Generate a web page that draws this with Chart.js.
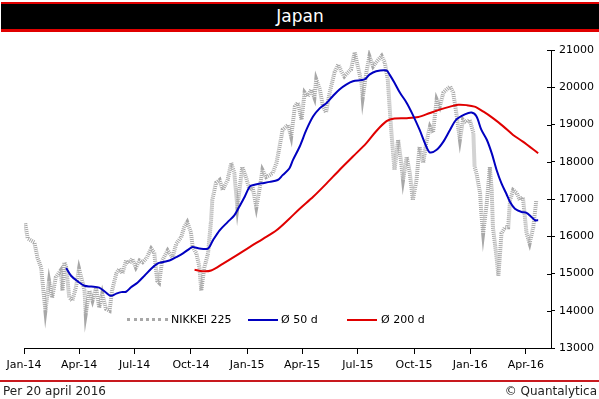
<!DOCTYPE html>
<html>
<head>
<meta charset="utf-8">
<script src="https://cdn.jsdelivr.net/npm/chart.js@4.4.1/dist/chart.umd.min.js"></script>
<style>
  html, body { margin: 0; padding: 0; background: #fff; }
  body { width: 599px; height: 399px; position: relative; overflow: hidden; font-family: "DejaVu Sans", Verdana, sans-serif; }
  #chartBox { position: absolute; left: 0; top: 0; width: 599px; height: 399px; }
  .titleBar { position: absolute; left: 1px; right: 0; top: 2px; height: 25px; background: #000; border-top: 2px solid #e00000; border-bottom: 3px solid #e00000; color: #fff; text-align: center; font-size: 17px; line-height: 25px; }
  .footLine { position: absolute; left: 0; right: 0; top: 380px; height: 2px; background: #c8191e; }
  .foot { position: absolute; top: 384px; font-size: 12px; line-height: 15px; color: #222; }
  .legend { position: absolute; top: 313px; left: 0; font-size: 11px; line-height: 14px; color: #000; }
  .legend span { position: absolute; white-space: nowrap; }
  .legend .mark { top: 6px; height: 0; }
</style>
</head>
<body>
<div id="chartBox"><canvas id="dataChart" width="599" height="399"></canvas></div>
<div class="titleBar">Japan</div>
<div class="legend">
  <span class="mark" style="left:127px;width:41px;border-top:3px dotted #a8a8a8;top:5px"></span>
  <span style="left:171px">NIKKEI 225</span>
  <span class="mark" style="left:248px;width:30px;border-top:2px solid #0000c0"></span>
  <span style="left:281px">Ø 50 d</span>
  <span class="mark" style="left:347px;width:30px;border-top:2px solid #e00000"></span>
  <span style="left:381px">Ø 200 d</span>
</div>
<div class="footLine"></div>
<div class="foot" style="left:3px">Per 20 april 2016</div>
<div class="foot" style="right:2px">© Quantalytica</div>
<script>
// days counted from 1 Jan 2014
const tickDays = [0, 90, 181, 273, 365, 455, 546, 638, 730, 821];
const tickLabels = ['Jan-14', 'Apr-14', 'Jul-14', 'Oct-14', 'Jan-15', 'Apr-15', 'Jul-15', 'Oct-15', 'Jan-16', 'Apr-16'];

const nikkeiDays = [2, 6, 17, 22, 28, 35, 41, 46, 52, 60, 63, 66, 69, 74, 79, 85, 90, 95, 99, 101,
  107, 112, 118, 123, 128, 134, 140, 144, 151, 156, 161, 167, 172, 177, 183, 189, 194, 200, 208, 213,
  218, 221, 226, 235, 243, 249, 257, 262, 267, 273, 276, 282, 287, 290, 295, 301, 306, 308, 314, 320,
  325, 333, 339, 344, 349, 357, 363, 369, 374, 380, 385, 390, 396, 402, 407, 413, 418, 423, 432, 437,
  443, 448, 454, 459, 464, 470, 475, 478, 484, 489, 494, 500, 508, 514, 519, 524, 530, 535, 541, 546,
  552, 554, 560, 565, 571, 576, 585, 590, 595, 598, 601, 606, 612, 617, 620, 626, 631, 636, 642, 647,
  653, 658, 664, 669, 675, 680, 686, 691, 697, 702, 707, 713, 718, 724, 729, 735, 737, 740, 746, 748,
  751, 757, 762, 765, 767, 773, 776, 781, 787, 792, 795, 800, 806, 811, 816, 822, 827, 833, 838];
const nikkei = [16350, 15940, 15835, 15430, 15160, 14000, 14800, 14350, 14900, 15080, 14540, 15300, 15170, 14360, 14270, 14630, 15130, 14810, 14540, 13920,
  14540, 14270, 14620, 14080, 14460, 14050, 14000, 14540, 15000, 15130, 15000, 15350, 15270, 15400, 15160, 15350, 15300, 15400, 15670, 15560,
  14800, 14750, 15350, 15620, 15430, 15800, 15970, 16240, 16380, 16110, 15700, 15540, 15160, 14540, 15160, 15540, 16430, 16970, 17430, 17510,
  17240, 17510, 17970, 17700, 16780, 17860, 17590, 17240, 17320, 16780, 17240, 17780, 17590, 17640, 17700, 17970, 18400, 18860, 18990, 18670,
  19480, 19590, 19130, 19860, 19750, 19940, 19720, 20210, 19940, 19480, 19320, 19860, 20400, 20610, 20430, 20290, 20400, 20480, 20940, 20560,
  20130, 19720, 20400, 20830, 20560, 20670, 20840, 20670, 20210, 19480, 18780, 17780, 18590, 17970, 17510, 18130, 17700, 16970, 17510, 18400,
  17970, 18510, 18940, 18780, 19670, 19480, 19860, 19940, 20020, 19860, 19320, 18590, 19130, 19050, 19130, 18780, 17860, 17700, 17160, 16620,
  16080, 16890, 17860, 17240, 16240, 15430, 14940, 16080, 16240, 16240, 16970, 17240, 17160, 16970, 17050, 16080, 15810, 16240, 16970];

const ma50Days = [69, 77, 87, 99, 110, 123, 134, 142, 151, 159, 167, 175, 186, 197, 208, 219, 226, 238, 249, 260,
  271, 276, 287, 301, 309, 320, 333, 344, 352, 361, 369, 374, 388, 402, 415, 423, 434, 440, 451, 462,
  473, 484, 495, 505, 516, 527, 538, 557, 565, 576, 593, 598, 606, 615, 626, 636, 647, 658, 664, 675,
  686, 697, 707, 721, 732, 740, 748, 757, 765, 773, 781, 789, 795, 803, 814, 822, 830, 836, 841];
const ma50 = [15150, 14940, 14800, 14670, 14650, 14620, 14490, 14400, 14460, 14500, 14510, 14630, 14760, 14940, 15130, 15270, 15300, 15350, 15440, 15540,
  15670, 15710, 15670, 15670, 15890, 16160, 16380, 16560, 16790, 17060, 17330, 17370, 17420, 17460, 17510, 17640, 17820, 18050, 18410, 18860,
  19220, 19440, 19580, 19760, 19940, 20070, 20160, 20210, 20340, 20430, 20450, 20340, 20120, 19850, 19580, 19260, 18860, 18410, 18250, 18320,
  18540, 18860, 19130, 19270, 19320, 19220, 18860, 18590, 18230, 17780, 17420, 17140, 16920, 16740, 16650, 16630, 16520, 16430, 16430];

const ma200Days = [279, 292, 306, 325, 347, 369, 391, 413, 434, 451, 473, 495, 516, 538, 560, 576, 593, 606, 626, 645,
  664, 680, 697, 710, 724, 737, 751, 767, 784, 800, 816, 841];
const ma200 = [15100, 15060, 15080, 15260, 15480, 15710, 15930, 16160, 16470, 16740, 17060, 17420, 17780, 18140, 18500, 18820, 19090, 19160, 19170, 19200,
  19310, 19400, 19480, 19530, 19520, 19480, 19350, 19170, 18950, 18720, 18540, 18230];

const yTicks = [13000, 14000, 15000, 16000, 17000, 18000, 19000, 20000, 21000];

function toPoints(days, values) {
  return days.map((d, i) => ({ x: d, y: values[i] }));
}

// little inward tick on the right axis, like the original
const crossTicks = {
  id: 'crossTicks',
  afterDraw(chart) {
    const ctx = chart.ctx;
    const ys = chart.scales.y;
    ctx.save();
    ctx.strokeStyle = '#000';
    ctx.lineWidth = 1;
    ctx.beginPath();
    for (const t of ys.ticks) {
      const py = Math.round(ys.getPixelForValue(t.value)) + 0.5;
      ctx.moveTo(ys.left - 4, py);
      ctx.lineTo(ys.left, py);
    }
    ctx.stroke();
    ctx.restore();
  }
};

Chart.defaults.font.family = '"DejaVu Sans", Verdana, sans-serif';
Chart.defaults.font.size = 11;
Chart.defaults.color = '#000';

const chart = new Chart(document.getElementById('dataChart'), {
  type: 'line',
  data: {
    datasets: [{
      label: 'Ø 50 d',
      data: toPoints(ma50Days, ma50),
      borderColor: '#0000c0',
      borderWidth: 2,
      pointRadius: 0,
      tension: 0.3,
      order: 1
    }, {
      label: 'Ø 200 d',
      data: toPoints(ma200Days, ma200),
      borderColor: '#e00000',
      borderWidth: 2,
      pointRadius: 0,
      tension: 0.3,
      order: 2
    }, {
      label: 'NIKKEI 225',
      data: toPoints(nikkeiDays, nikkei),
      borderColor: '#a8a8a8',
      borderWidth: 4,
      borderDash: [1, 1],
      pointRadius: 0,
      tension: 0,
      order: 3
    }]
  },
  options: {
    responsive: false,
    animation: false,
    layout: { padding: { left: 24, top: 50, right: 0, bottom: 0 } },
    plugins: { legend: { display: false }, tooltip: { enabled: false } },
    scales: {
      x: {
        type: 'linear',
        min: 0,
        max: 862,
        afterBuildTicks: s => { s.ticks = tickDays.map(v => ({ value: v })); },
        afterFit: s => { s.height = 51; },
        ticks: {
          autoSkip: false,
          maxRotation: 0,
          padding: 5,
          callback: (v) => tickLabels[tickDays.indexOf(v)]
        },
        grid: { drawOnChartArea: false, tickLength: 6, color: '#000' },
        border: { color: '#000', width: 1 }
      },
      y: {
        position: 'right',
        min: 13000,
        max: 21000,
        afterBuildTicks: s => { s.ticks = yTicks.map(v => ({ value: v })); },
        afterFit: s => { s.width = 48; },
        ticks: { padding: 4, callback: v => String(v) },
        grid: { drawOnChartArea: false, tickLength: 4, color: '#000' },
        border: { color: '#000', width: 1 }
      }
    }
  },
  plugins: [crossTicks]
});
</script>
</body>
</html>
